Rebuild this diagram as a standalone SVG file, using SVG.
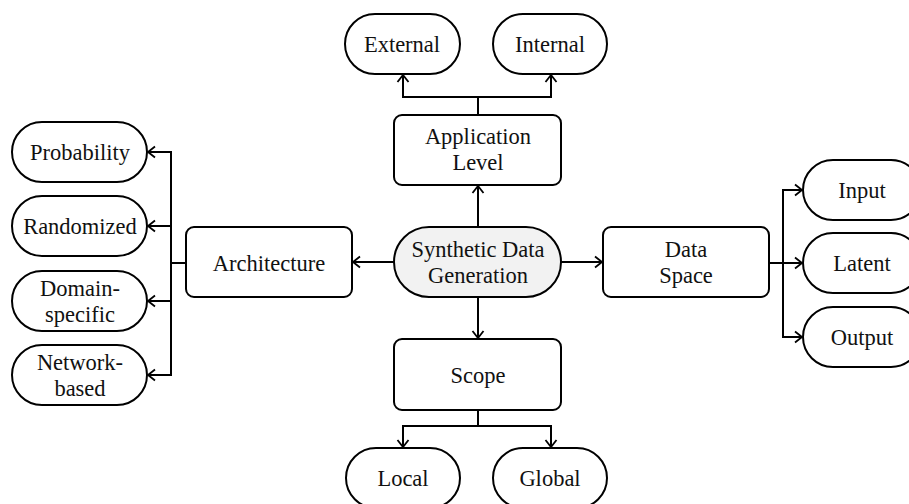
<svg xmlns="http://www.w3.org/2000/svg" width="909" height="504" viewBox="0 0 909 504">
<style>
.n{fill:#fff;stroke:#000;stroke-width:2}
.c{fill:#f2f2f2;stroke:#000;stroke-width:2}
text{font-family:"Liberation Serif","Times New Roman",serif;font-size:22.5px;fill:#111;text-anchor:middle}
.e{fill:none;stroke:#000;stroke-width:2;marker-end:url(#a)}
</style>
<defs>
<marker id="a" markerUnits="userSpaceOnUse" markerWidth="12" markerHeight="14" viewBox="-9 -7 12 14" refX="0" refY="0" orient="auto">
<path d="M-7,-5.5 L0,0 L-7,5.5" fill="none" stroke="#000" stroke-width="1.8"/>
</marker>
</defs>
<g id="connectors">
<path class="e" d="M478,227 V186"/>
<path class="e" d="M478,115 V97 H403 V75"/>
<path class="e" d="M478,97 H551 V75"/>
<path class="e" d="M478,297 V338"/>
<path class="e" d="M478,410 V426 H403 V447"/>
<path class="e" d="M478,426 H551 V447"/>
<path class="e" d="M394,262 H353"/>
<path class="e" d="M186,263 H171 V152 H148"/>
<path class="e" d="M171,263 V375 H148"/>
<path class="e" d="M171,226 H148"/>
<path class="e" d="M171,301 H148"/>
<path class="e" d="M561,262 H602"/>
<path class="e" d="M769,263 H802"/>
<path class="e" d="M783,263 V190 H802"/>
<path class="e" d="M783,263 V337 H802"/>
</g>
<g id="center"><rect class="c" x="394" y="227" width="167" height="70" rx="35"/><text x="478" y="257">Synthetic Data</text><text x="478" y="283">Generation</text></g>
<g id="app"><rect class="n" x="394" y="115" width="167" height="70" rx="8"/><text x="478" y="144">Application</text><text x="478" y="170">Level</text></g>
<g id="external"><rect class="n" x="345" y="14" width="115" height="60" rx="30"/><text x="402" y="52">External</text></g>
<g id="internal"><rect class="n" x="493" y="14" width="114" height="60" rx="30"/><text x="550" y="52">Internal</text></g>
<g id="scope"><rect class="n" x="394" y="339" width="167" height="71" rx="8"/><text x="478" y="383">Scope</text></g>
<g id="local"><rect class="n" x="346" y="448" width="114" height="60" rx="30"/><text x="403" y="486">Local</text></g>
<g id="global"><rect class="n" x="493" y="448" width="114" height="60" rx="30"/><text x="550" y="486">Global</text></g>
<g id="arch"><rect class="n" x="186" y="227" width="166" height="70" rx="8"/><text x="269" y="271">Architecture</text></g>
<g id="prob"><rect class="n" x="12" y="122" width="135" height="60" rx="30"/><text x="80" y="160">Probability</text></g>
<g id="rand"><rect class="n" x="12" y="196" width="135" height="60" rx="30"/><text x="80" y="234">Randomized</text></g>
<g id="domain"><rect class="n" x="12" y="271" width="135" height="60" rx="30"/><text x="80" y="296">Domain-</text><text x="80" y="322">specific</text></g>
<g id="network"><rect class="n" x="12" y="345" width="135" height="60" rx="30"/><text x="80" y="370">Network-</text><text x="80" y="396">based</text></g>
<g id="data"><rect class="n" x="603" y="227" width="166" height="70" rx="8"/><text x="686" y="257">Data</text><text x="686" y="283">Space</text></g>
<g id="input"><rect class="n" x="803" y="160" width="118" height="60" rx="30"/><text x="862" y="198">Input</text></g>
<g id="latent"><rect class="n" x="803" y="233" width="118" height="60" rx="30"/><text x="862" y="271">Latent</text></g>
<g id="output"><rect class="n" x="803" y="307" width="118" height="60" rx="30"/><text x="862" y="345">Output</text></g>
</svg>
